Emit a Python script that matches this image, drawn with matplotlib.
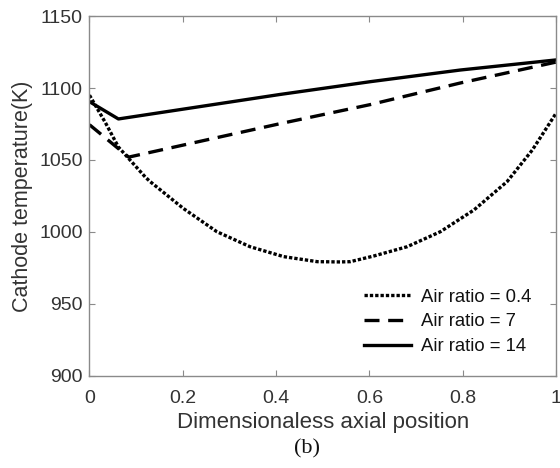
import matplotlib
matplotlib.use("Agg")
import matplotlib.pyplot as plt
import numpy as np

# Data
x_04 = [0.0, 0.034, 0.062, 0.12, 0.13, 0.201, 0.273, 0.344, 0.416, 0.488, 0.537, 0.559, 0.609, 0.681, 0.752, 0.824, 0.895, 0.949, 1.0]
y_04 = [1095, 1076, 1059, 1038, 1035, 1016.4, 1000.2, 989.8, 982.9, 979.4, 979.2, 979.4, 983.3, 989.8, 1000.2, 1015.3, 1035, 1056.9, 1082.5]

x_7 = [0.0, 0.084, 0.408, 0.602, 0.795, 1.0]
y_7 = [1074.5, 1052, 1075.2, 1088.5, 1103.5, 1118]

x_14 = [0.0, 0.062, 0.408, 0.602, 0.795, 1.0]
y_14 = [1090.5, 1078.5, 1095.5, 1104.4, 1112.5, 1119.5]

labels = ["Air ratio = 0.4", "Air ratio = 7", "Air ratio = 14"]
xticks = [0, 0.2, 0.4, 0.6, 0.8, 1]
yticks = [900, 950, 1000, 1050, 1100, 1150]

plt.rcParams['font.family'] = ['Liberation Sans', 'DejaVu Sans']

fig = plt.figure(figsize=(5.6, 4.68), dpi=100)
ax = fig.add_axes([0.1598, 0.1966, 0.8332, 0.7692])

ax.plot(x_04, y_04, color='black', lw=2.4, linestyle=(0, (1.0, 0.6)), label=labels[0])
ax.plot(x_7, y_7, color='black', lw=2.4, linestyle=(0, (4.5, 2.6)), label=labels[1])
ax.plot(x_14, y_14, color='black', lw=2.4, linestyle='-', label=labels[2])

ax.set_xlim(0, 1)
ax.set_ylim(900, 1150)
ax.set_xticks(xticks)
ax.set_xticklabels(["0", "0.2", "0.4", "0.6", "0.8", "1"])
ax.set_yticks(yticks)

gray = '#8a8a8a'
for s in ax.spines.values():
    s.set_color(gray)
    s.set_linewidth(1.0)
ax.tick_params(direction='in', length=4, width=0.8, color=gray,
               top=True, right=True, labelsize=14, labelcolor='#333333')
ax.tick_params(axis='x', pad=10)
ax.tick_params(axis='y', pad=5)

ax.set_xlabel("Dimensionaless axial position", fontsize=16, color='#333333', labelpad=4)
ax.set_ylabel("Cathode temperature(K)", fontsize=15.5, color='#333333', labelpad=4)

leg = ax.legend(loc='lower right', frameon=False, fontsize=13.3, handlelength=2.55,
                handletextpad=0.55, labelspacing=0.42, bbox_to_anchor=(0.983, 0.012))
for t in leg.get_texts():
    t.set_color('#111111')

fig.text(0.548, 0.04, "(b)", family=['Liberation Serif', 'DejaVu Serif'], fontsize=16,
         ha='center', va='center', color='#111111')

fig.savefig("out.png", dpi=100)
